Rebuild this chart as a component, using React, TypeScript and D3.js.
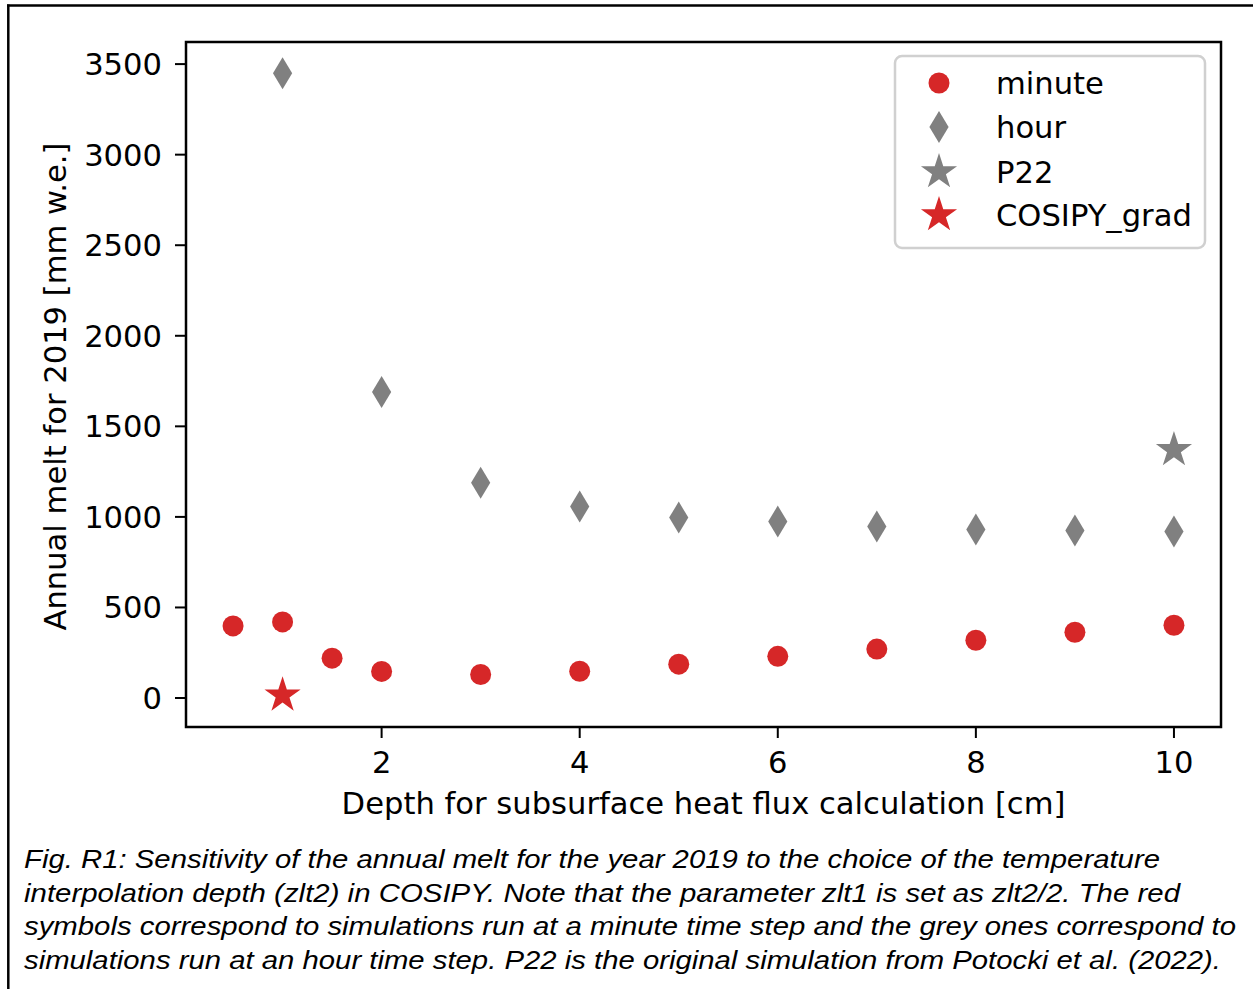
import React from "react";
import * as d3 from "d3";

const minuteX = [0.5, 1, 1.5, 2, 3, 4, 5, 6, 7, 8, 9, 10];
const minuteY = [398, 420, 220, 147, 130, 148, 187, 230, 270, 319, 363, 402];
const hourX = [1, 2, 3, 4, 5, 6, 7, 8, 9, 10];
const hourY = [3450, 1690, 1189, 1057, 996, 974, 947, 930, 925, 920];
const p22 = { x: 10, y: 1370 };
const cosipyGrad = { x: 1, y: 15 };
const xTicks = [2, 4, 6, 8, 10];
const yTicks = [0, 500, 1000, 1500, 2000, 2500, 3000, 3500];
const legendLabels = ["minute", "hour", "P22", "COSIPY_grad"];
const captionLines = [
  "Fig. R1: Sensitivity of the annual melt for the year 2019 to the choice of the temperature",
  "interpolation depth (zlt2) in COSIPY. Note that the parameter zlt1 is set as zlt2/2. The red",
  "symbols correspond to simulations run at a minute time step and the grey ones correspond to",
  "simulations run at an hour time step. P22 is the original simulation from Potocki et al. (2022).",
];
const captionWidths = [1136, 1156, 1212, 1197];

const RED = "#d62728";
const GREY = "#808080";
const FONT = "DejaVu Sans";
const FS = 30.6;

function starPath(r: number) {
  const pts: [number, number][] = [];
  for (let i = 0; i < 10; i++) {
    const rad = i % 2 === 0 ? r : r * 0.381966;
    const a = (i * Math.PI) / 5;
    pts.push([rad * Math.sin(a), -rad * Math.cos(a)]);
  }
  return d3.line()(pts)! + "Z";
}

function diamondPath(h: number) {
  const w = h * 0.6;
  return `M0,${-h / 2}L${w / 2},0L0,${h / 2}L${-w / 2},0Z`;
}

export default function App() {
  const L = 186, R = 1221, T = 42, B = 727;
  const x = d3.scaleLinear().domain([0.025, 10.475]).range([L, R]);
  const y = d3.scaleLinear().domain([-160, 3622]).range([B, T]);
  const dotR = 10.5;
  const starR = 19;
  const diamH = 32;

  const legendRows = [83, 127, 172, 215];
  const legendMarkers = [
    <circle key="m" r={dotR} fill={RED} />,
    <path key="h" d={diamondPath(diamH)} fill={GREY} />,
    <path key="p" d={starPath(starR)} fill={GREY} />,
    <path key="c" d={starPath(starR)} fill={RED} />,
  ];

  return (
    <svg
      width={1253}
      height={989}
      style={{ position: "absolute", left: 0, top: 0, background: "#fff" }}
    >
      <rect x={0} y={0} width={1253} height={989} fill="#fff" />
      {/* outer frame */}
      <line x1={7} x2={1253} y1={5.5} y2={5.5} stroke="#000" strokeWidth={2.5} />
      <line x1={8.3} x2={8.3} y1={4.5} y2={989} stroke="#000" strokeWidth={2.5} />

      {/* y ticks */}
      {yTicks.map((t) => (
        <g key={"y" + t} transform={`translate(0,${y(t)})`}>
          <line x1={L - 11} x2={L} stroke="#000" strokeWidth={2} />
          <text
            x={162}
            dy="0.36em"
            textAnchor="end"
            fontFamily={FONT}
            fontSize={FS}
            fill="#000"
          >
            {t}
          </text>
        </g>
      ))}
      {/* x ticks */}
      {xTicks.map((t) => (
        <g key={"x" + t} transform={`translate(${x(t)},0)`}>
          <line y1={B} y2={B + 11} stroke="#000" strokeWidth={2} />
          <text
            y={773}
            textAnchor="middle"
            fontFamily={FONT}
            fontSize={FS}
            fill="#000"
          >
            {t}
          </text>
        </g>
      ))}

      {/* data */}
      {hourX.map((v, i) => (
        <path
          key={"h" + i}
          d={diamondPath(diamH)}
          transform={`translate(${x(v)},${y(hourY[i])})`}
          fill={GREY}
        />
      ))}
      <path
        d={starPath(starR)}
        transform={`translate(${x(p22.x)},${y(p22.y)})`}
        fill={GREY}
      />
      {minuteX.map((v, i) => (
        <circle key={"m" + i} cx={x(v)} cy={y(minuteY[i])} r={dotR} fill={RED} />
      ))}
      <path
        d={starPath(starR)}
        transform={`translate(${x(cosipyGrad.x)},${y(cosipyGrad.y)})`}
        fill={RED}
      />

      {/* axes frame */}
      <rect x={L} y={T} width={R - L} height={B - T} fill="none" stroke="#000" strokeWidth={2.5} />

      {/* legend */}
      <rect
        x={895}
        y={56}
        width={310}
        height={192}
        rx={7}
        fill="#fff"
        fillOpacity={0.8}
        stroke="#d0d0d0"
        strokeWidth={2.5}
      />
      {legendLabels.map((lab, i) => (
        <g key={lab} transform={`translate(0,${legendRows[i]})`}>
          <g transform="translate(939,0)">{legendMarkers[i]}</g>
          <text x={996} dy="0.36em" fontFamily={FONT} fontSize={FS} fill="#000">
            {lab}
          </text>
        </g>
      ))}

      {/* axis labels */}
      <text
        x={(L + R) / 2}
        y={814}
        textAnchor="middle"
        fontFamily={FONT}
        fontSize={FS}
        fill="#000"
      >
        Depth for subsurface heat flux calculation [cm]
      </text>
      <text
        transform={`translate(66,${(143 + 630) / 2}) rotate(-90)`}
        textAnchor="middle"
        fontFamily={FONT}
        fontSize={FS}
        fill="#000"
      >
        Annual melt for 2019 [mm w.e.]
      </text>

      {/* caption */}
      {captionLines.map((ln, i) => (
        <text
          key={i}
          x={24}
          y={868 + i * 33.7}
          fontFamily="Liberation Sans, Arial, sans-serif"
          fontStyle="italic"
          fontSize={26.5}
          textLength={captionWidths[i]}
          lengthAdjust="spacingAndGlyphs"
          fill="#000"
        >
          {ln}
        </text>
      ))}
    </svg>
  );
}
